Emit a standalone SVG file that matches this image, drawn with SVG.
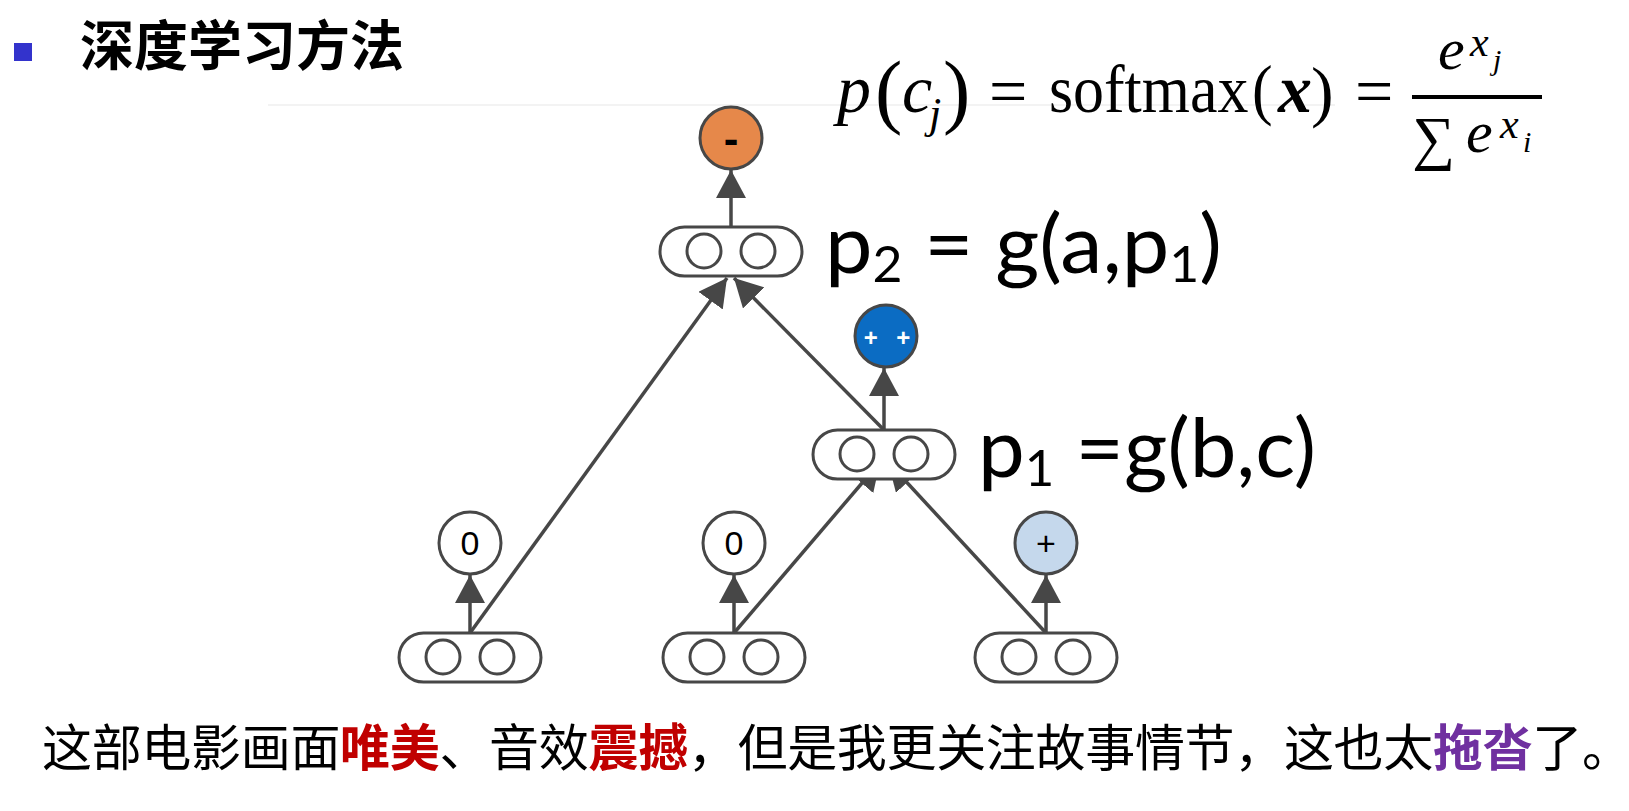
<svg xmlns="http://www.w3.org/2000/svg" width="1629" height="811" viewBox="0 0 1629 811">
<defs>
<style>
.pill{fill:#fff;stroke:#474747;stroke-width:3}
.inner{fill:#fff;stroke:#474747;stroke-width:3}
.circ{stroke:#474747;stroke-width:3}
.conn{stroke:#474747;stroke-width:3.5;fill:none;marker-end:url(#ah)}
.lbl{font-family:Lato,"Open Sans","Liberation Sans",sans-serif;font-size:82px;fill:#000}
.sub{font-size:50px}
.m{font-family:"Liberation Serif","DejaVu Serif",serif;fill:#000}
.cn{font-family:"Noto Sans CJK SC",sans-serif;fill:#000}
.d{font-family:"Liberation Sans",Arial,sans-serif;font-size:34px;text-anchor:middle;fill:#000}
</style>
<marker id="ah" viewBox="0 0 28 30" refX="28" refY="15" markerWidth="28" markerHeight="30" markerUnits="userSpaceOnUse" orient="auto">
<path d="M0,0 L28,15 L0,30 z" fill="#474747"/>
</marker>
</defs>
<rect width="1629" height="811" fill="#fff"/>
<line x1="268" y1="105" x2="1335" y2="105" stroke="#efefef" stroke-width="1.5"/>

<g id="title">
<rect x="14" y="43" width="18" height="18" fill="#3333cc"/>
<text x="80" y="66" class="cn" font-size="54" font-weight="700">深度学习方法</text>
</g>

<g id="formula" class="m">
<text x="837" y="112" font-size="68" font-style="italic">p</text>
<text x="875" y="118" font-size="82">(</text>
<text x="902" y="112" font-size="68" font-style="italic">c</text>
<text x="929" y="128" font-size="44" font-style="italic">j</text>
<text x="943" y="118" font-size="82">)</text>
<text x="989" y="114" font-size="68">=</text>
<text transform="translate(1049,112) scale(0.91,1)" font-size="68">softmax<tspan dx="4">(</tspan></text>
<text x="1278" y="112" font-size="68" font-style="italic" font-weight="700">x</text>
<text x="1311" y="114" font-size="68">)</text>
<text x="1355" y="114" font-size="68">=</text>
<rect x="1412" y="95" width="130" height="4" fill="#000"/>
<text x="1438" y="69" font-size="60" font-style="italic">e</text>
<text x="1470" y="56" font-size="42" font-style="italic">x</text>
<text x="1493" y="70" font-size="30" font-style="italic">j</text>
<text x="1412" y="158" font-size="60">∑</text>
<text x="1466" y="152" font-size="60" font-style="italic">e</text>
<text x="1500" y="138" font-size="42" font-style="italic">x</text>
<text x="1523" y="152" font-size="30" font-style="italic">i</text>
</g>

<g id="connectors">
<line class="conn" x1="731" y1="227" x2="731" y2="170"/>
<line class="conn" x1="884" y1="430" x2="884" y2="368"/>
<line class="conn" x1="470" y1="633" x2="470" y2="575"/>
<line class="conn" x1="734" y1="633" x2="734" y2="575"/>
<line class="conn" x1="1046" y1="633" x2="1046" y2="575"/>
<line class="conn" x1="470" y1="633" x2="727" y2="278"/>
<line class="conn" x1="884" y1="430" x2="734" y2="278"/>
<line class="conn" x1="734" y1="633" x2="880" y2="462"/>
<line class="conn" x1="1046" y1="633" x2="888" y2="462"/>
</g>

<g id="out-p2">
<circle class="circ" cx="731" cy="138" r="31" fill="#e6884a"/>
<text x="731" y="154" font-family="Liberation Sans,Arial,sans-serif" font-size="44" font-weight="700" text-anchor="middle">-</text>
</g>

<g id="node-p2">
<rect class="pill" x="660" y="227" width="142" height="49" rx="24.5"/>
<circle class="inner" cx="704" cy="251" r="17"/>
<circle class="inner" cx="758" cy="251" r="17"/>
<text class="lbl" x="825" y="273" textLength="397" lengthAdjust="spacingAndGlyphs">p<tspan class="sub" dy="9">2</tspan><tspan dy="-9"> = g(a,p</tspan><tspan class="sub" dy="9">1</tspan><tspan dy="-9">)</tspan></text>
</g>

<g id="out-p1">
<circle class="circ" cx="886" cy="336" r="31" fill="#0b6cc3"/>
<text x="887" y="346" font-family="Liberation Sans,Arial,sans-serif" font-size="24" font-weight="700" fill="#fff" text-anchor="middle" word-spacing="12">+ +</text>
</g>

<g id="node-p1">
<rect class="pill" x="813" y="430" width="142" height="49" rx="24.5"/>
<circle class="inner" cx="857" cy="454" r="17"/>
<circle class="inner" cx="911" cy="454" r="17"/>
<text class="lbl" x="978" y="477" textLength="338" lengthAdjust="spacingAndGlyphs">p<tspan class="sub" dy="9">1</tspan><tspan dy="-9"> =g(b,c)</tspan></text>
</g>

<g id="out-a">
<circle class="circ" cx="470" cy="543" r="31" fill="#fff"/>
<text class="d" x="470" y="555">0</text>
</g>
<g id="out-b">
<circle class="circ" cx="734" cy="543" r="31" fill="#fff"/>
<text class="d" x="734" y="555">0</text>
</g>
<g id="out-c">
<circle class="circ" cx="1046" cy="543" r="31" fill="#c5d8ec"/>
<text class="d" x="1046" y="555">+</text>
</g>

<g id="node-a">
<rect class="pill" x="399" y="633" width="142" height="49" rx="24.5"/>
<circle class="inner" cx="443" cy="657" r="17"/>
<circle class="inner" cx="497" cy="657" r="17"/>
</g>
<g id="node-b">
<rect class="pill" x="663" y="633" width="142" height="49" rx="24.5"/>
<circle class="inner" cx="707" cy="657" r="17"/>
<circle class="inner" cx="761" cy="657" r="17"/>
</g>
<g id="node-c">
<rect class="pill" x="975" y="633" width="142" height="49" rx="24.5"/>
<circle class="inner" cx="1019" cy="657" r="17"/>
<circle class="inner" cx="1073" cy="657" r="17"/>
</g>

<g id="sentence">
<text x="42" y="766" class="cn" font-size="50" textLength="1590" lengthAdjust="spacing">这部电影画面<tspan fill="#c00000" font-weight="700">唯美</tspan>、音效<tspan fill="#c00000" font-weight="700">震撼</tspan>，但是我更关注故事情节，这也太<tspan fill="#7030a0" font-weight="700">拖沓</tspan>了。</text>
</g>
</svg>
